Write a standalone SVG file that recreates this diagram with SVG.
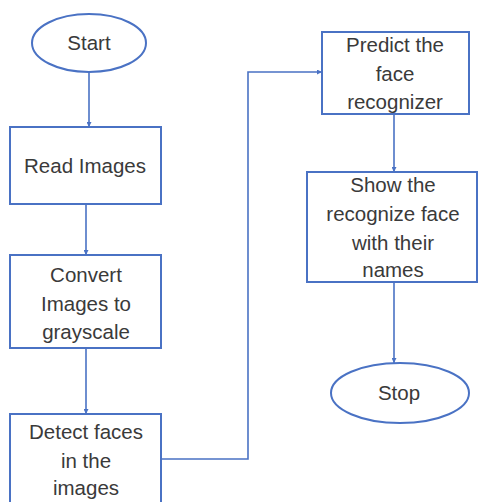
<svg xmlns="http://www.w3.org/2000/svg" width="479" height="502" viewBox="0 0 479 502">
<style>
.n{fill:#fff;stroke:#4a72c4;stroke-width:2}
.t{font-family:"Liberation Sans",Arial,sans-serif;font-size:20.5px;fill:#3a3a3a;text-anchor:middle}
.c{fill:none;stroke:#4a72c4;stroke-width:1.6}
</style>
<defs>
<marker id="a" viewBox="0 0 6 6" refX="6" refY="3" markerWidth="5" markerHeight="5" markerUnits="userSpaceOnUse" orient="auto">
<path d="M0,0 L6,3 L0,6 z" fill="#4a72c4"/>
</marker>
</defs>
<rect width="479" height="502" fill="#fff"/>
<g id="connectors">
<path class="c" d="M89,72 V127" marker-end="url(#a)"/>
<path class="c" d="M86,204 V255" marker-end="url(#a)"/>
<path class="c" d="M86,348 V414" marker-end="url(#a)"/>
<path class="c" d="M161,459 H248 V72 H322" marker-end="url(#a)"/>
<path class="c" d="M394,114 V172" marker-end="url(#a)"/>
<path class="c" d="M394,282 V363" marker-end="url(#a)"/>
</g>
<g id="start">
<ellipse class="n" cx="89" cy="43" rx="57" ry="29"/>
<text class="t" x="89" y="50">Start</text>
</g>
<g id="read">
<rect class="n" x="10" y="127" width="151" height="77"/>
<text class="t" x="85" y="173">Read Images</text>
</g>
<g id="convert">
<rect class="n" x="10" y="255" width="151" height="93"/>
<text class="t" x="86" y="282">Convert</text>
<text class="t" x="86" y="311">Images to</text>
<text class="t" x="86" y="339">grayscale</text>
</g>
<g id="detect">
<rect class="n" x="10" y="414" width="151" height="100"/>
<text class="t" x="86" y="439">Detect faces</text>
<text class="t" x="86" y="468">in the</text>
<text class="t" x="86" y="495">images</text>
</g>
<g id="predict">
<rect class="n" x="322" y="32" width="147" height="82"/>
<text class="t" x="395" y="52">Predict the</text>
<text class="t" x="395" y="81">face</text>
<text class="t" x="395" y="109">recognizer</text>
</g>
<g id="show">
<rect class="n" x="307" y="172" width="170" height="110"/>
<text class="t" x="393" y="192">Show the</text>
<text class="t" x="393" y="221">recognize face</text>
<text class="t" x="393" y="250">with their</text>
<text class="t" x="393" y="277">names</text>
</g>
<g id="stop">
<ellipse class="n" cx="400" cy="393" rx="69" ry="30"/>
<text class="t" x="399" y="400">Stop</text>
</g>
</svg>
